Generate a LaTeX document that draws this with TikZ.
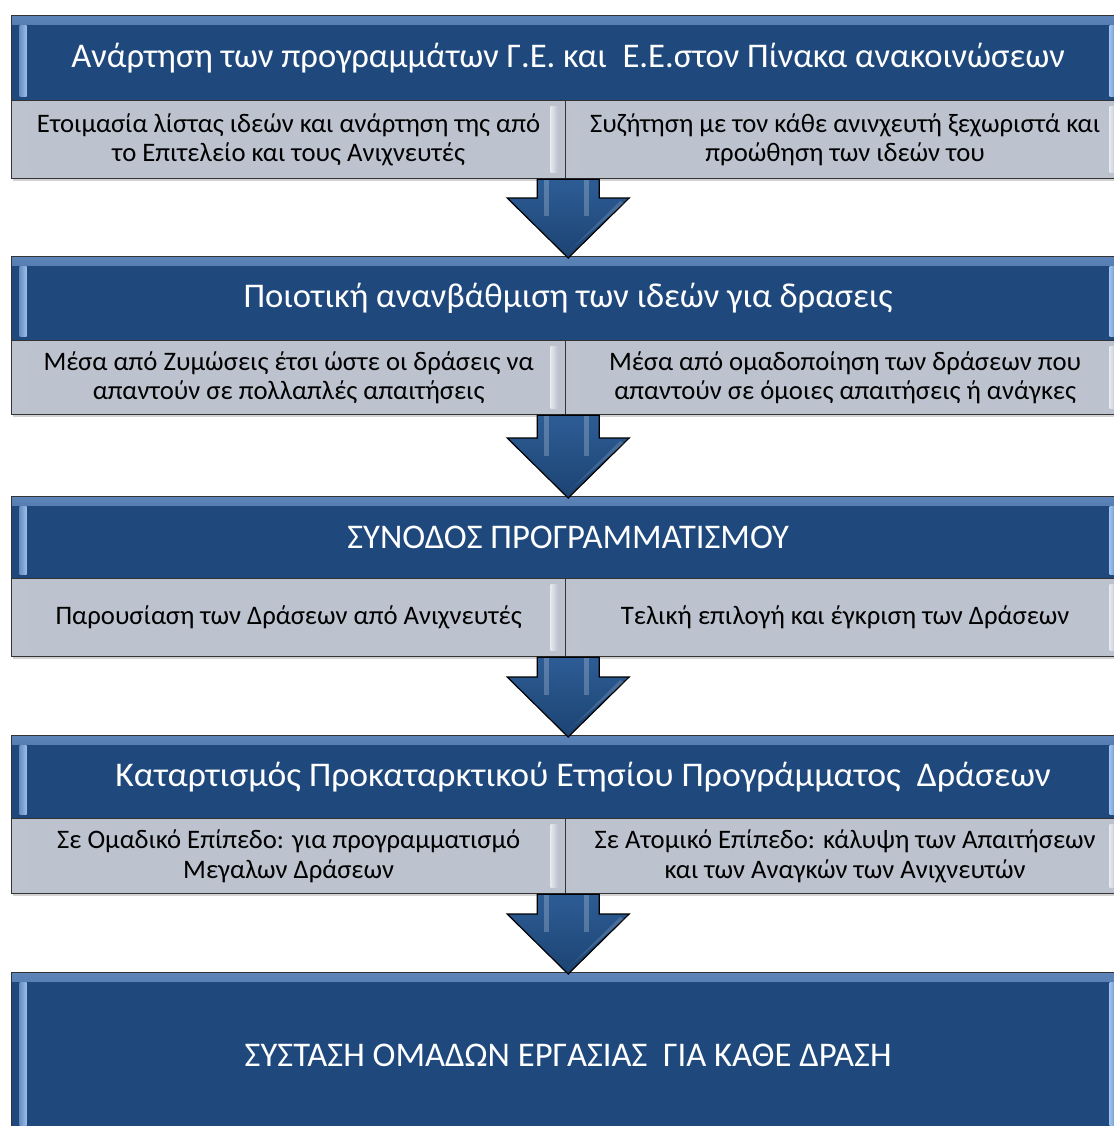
\documentclass[tikz,border=0pt]{standalone}
\usepackage{fontspec}
\setmainfont{Carlito}
\usetikzlibrary{calc,shadows}
\definecolor{hblue}{HTML}{1F497D}
\definecolor{hlight}{HTML}{5C84B8}
\definecolor{bevel}{HTML}{9CC0EC}
\definecolor{sgrey}{HTML}{BCC3CF}
\definecolor{sglight}{HTML}{E4E8EF}
\definecolor{arrtop}{HTML}{2D5C95}
\definecolor{arrbot}{HTML}{1C4473}
\tikzset{
  boxbase/.style={draw=black!80, line width=1.3pt, inner sep=0pt, anchor=north west,
    drop shadow={shadow xshift=1pt, shadow yshift=-2.5pt, opacity=.35}},
  hdr/.style={boxbase, fill=hblue, text=white, font=\fontsize{34.6}{40}\selectfont,
    path picture={
      \fill[top color=hlight, bottom color=hblue]
        (path picture bounding box.north west) rectangle
        ($(path picture bounding box.north east)+(0,9)$);
      \fill[left color=bevel!60!hblue, right color=bevel]
        ($(path picture bounding box.north west)+(8,10)$) rectangle
        ($(path picture bounding box.south west)+(15,-4)$);
      \fill[right color=bevel!60!hblue, left color=bevel]
        ($(path picture bounding box.north east)+(-15,10)$) rectangle
        ($(path picture bounding box.south east)+(-8,-4)$);
    }},
  sub/.style={boxbase, fill=sgrey, text=black, align=center,
    font=\fontsize{26.7}{29.5}\selectfont,
    path picture={
      \fill[left color=sgrey, right color=sglight]
        ($(path picture bounding box.north west)+(8,6)$) rectangle
        ($(path picture bounding box.south west)+(15,-6)$);
      \fill[right color=sgrey, left color=sglight]
        ($(path picture bounding box.north east)+(-15,6)$) rectangle
        ($(path picture bounding box.south east)+(-8,-6)$);
    }},
  arr/.style={draw=black, line width=1.2pt, line join=miter,
    top color=arrtop, bottom color=arrbot}
}
\newcommand\flowarrow[2]{%
  \coordinate (st) at (#2.north |- #1.south);
  \coordinate (tip) at ($(#2.north)+(0,2)$);
  \coordinate (ht) at ($(tip)+(0,-60)$);
  \draw[arr] ($(st)+(-31,0)$) -- ($(ht)+(-31,0)$) -- ($(ht)+(-61,0)$) -- (tip)
    -- ($(ht)+(61,0)$) -- ($(ht)+(31,0)$) -- ($(st)+(31,0)$) -- cycle;
  \fill[white, opacity=.22] ($(st)+(-24,1)$) rectangle ($(ht)+(-19,18)$);
  \fill[white, opacity=.22] ($(st)+(16,1)$) rectangle ($(ht)+(21,18)$);
  \fill[white, opacity=.15] ($(ht)+(52,3)$) -- ($(tip)+(0,-6)$) -- ($(tip)+(4,-10)$) -- ($(ht)+(56,5)$) -- cycle;
}
\begin{document}
\begin{tikzpicture}[x=1pt,y=-1pt]
\useasboundingbox (0,0) rectangle (1113,1126);
\fill[white] (0,0) rectangle (1113,1126);

% block 1
\node[hdr, minimum width=1113pt, minimum height=85pt] (h1) at (11,15)
  {Ανάρτηση των προγραμμάτων Γ.Ε. και\ \ Ε.Ε.στον Πίνακα ανακοινώσεων};
\node[sub, minimum width=554pt, minimum height=78pt] (s1l) at (11,100)
  {Ετοιμασία λίστας ιδεών και ανάρτηση της από\\το Επιτελείο και τους Ανιχνευτές};
\node[sub, minimum width=559pt, minimum height=78pt] (s1r) at (565,100)
  {Συζήτηση με τον κάθε ανινχευτή ξεχωριστά και\\προώθηση των ιδεών του};

% block 2
\node[hdr, minimum width=1113pt, minimum height=84pt] (h2) at (11,256)
  {Ποιοτική ανανβάθμιση των ιδεών για δρασεις};
\node[sub, minimum width=554pt, minimum height=74pt] (s2l) at (11,340)
  {Μέσα από Ζυμώσεις έτσι ώστε οι δράσεις να\\απαντούν σε πολλαπλές απαιτήσεις};
\node[sub, minimum width=559pt, minimum height=74pt] (s2r) at (565,340)
  {Μέσα από ομαδοποίηση των δράσεων που\\απαντούν σε όμοιες απαιτήσεις ή ανάγκες};

% block 3
\node[hdr, minimum width=1113pt, minimum height=82pt] (h3) at (11,496)
  {ΣΥΝΟΔΟΣ ΠΡΟΓΡΑΜΜΑΤΙΣΜΟΥ};
\node[sub, minimum width=554pt, minimum height=78pt] (s3l) at (11,578)
  {Παρουσίαση των Δράσεων από Ανιχνευτές};
\node[sub, minimum width=559pt, minimum height=78pt] (s3r) at (565,578)
  {Τελική επιλογή και έγκριση των Δράσεων};

% block 4
\node[hdr, minimum width=1113pt, minimum height=83pt] (h4) at (11,735)
  {\hspace*{30pt}\scalebox{1.03}[1]{Καταρτισμός Προκαταρκτικού Ετησίου Προγράμματος\ \ Δράσεων}};
\node[sub, minimum width=554pt, minimum height=75pt] (s4l) at (11,818)
  {Σε Ομαδικό Επίπεδο: για προγραμματισμό\\Μεγαλων Δράσεων};
\node[sub, minimum width=559pt, minimum height=75pt] (s4r) at (565,818)
  {Σε Ατομικό Επίπεδο: κάλυψη των Απαιτήσεων\\και των Αναγκών των Ανιχνευτών};

% block 5
\node[hdr, minimum width=1113pt, minimum height=166pt] (h5) at (11,972)
  {ΣΥΣΤΑΣΗ ΟΜΑΔΩΝ ΕΡΓΑΣΙΑΣ\ \ ΓΙΑ ΚΑΘΕ ΔΡΑΣΗ};

% arrows
\flowarrow{s1l}{h2}
\flowarrow{s2l}{h3}
\flowarrow{s3l}{h4}
\flowarrow{s4l}{h5}
\end{tikzpicture}
\end{document}
